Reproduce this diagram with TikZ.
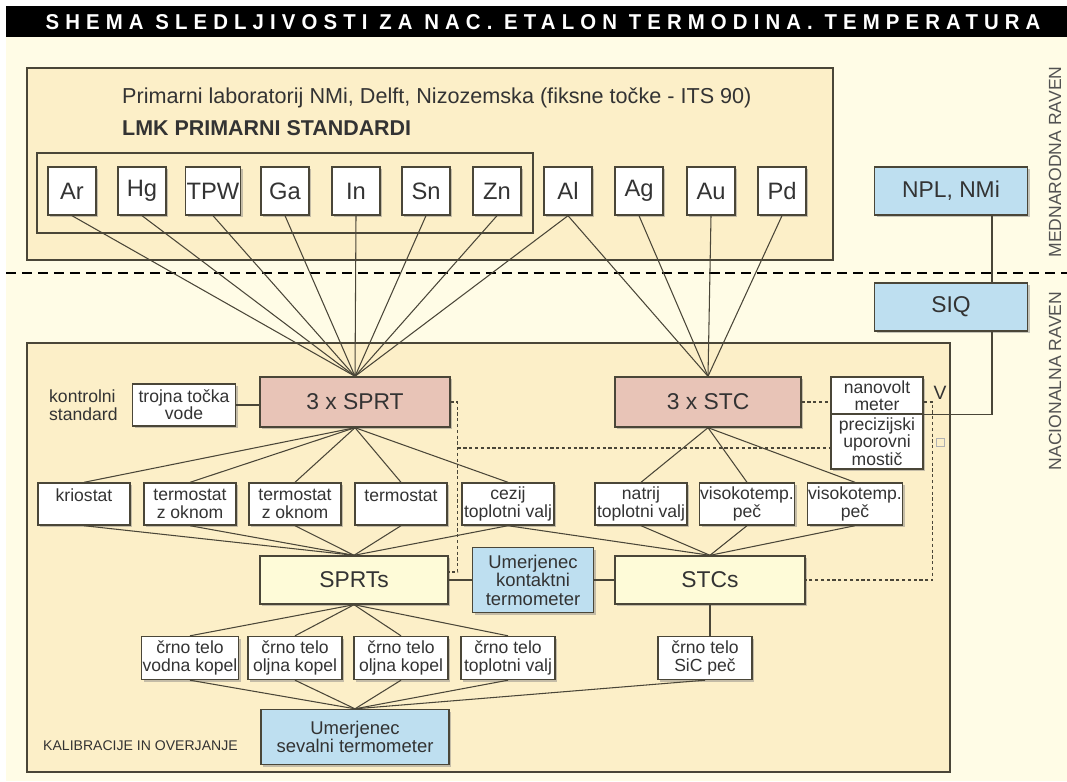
\documentclass[tikz,border=0pt]{standalone}
\usepackage{fontspec}
\setmainfont{Liberation Sans}
\usepackage{graphicx}
\usetikzlibrary{shadows}
\definecolor{pageBg}{HTML}{FFFCE6}
\definecolor{panelBg}{HTML}{FCEFC8}
\definecolor{sprtPink}{HTML}{E8C4B7}
\definecolor{paleBox}{HTML}{FEFBD8}
\definecolor{refBlue}{HTML}{BEDFF0}
\definecolor{nLine}{HTML}{4A4638}
\definecolor{nInk}{HTML}{333333}
\tikzset{
  box/.style={draw=nLine, line width=0.8pt, inner sep=0.5pt, align=center, text=nInk,
    drop shadow={shadow xshift=1.3pt, shadow yshift=-1.3pt, fill=black!50, opacity=0.45}},
  elem/.style={box, fill=white, minimum width=0.96cm, minimum height=0.96cm,
    font=\fontsize{13.5}{15}\selectfont},
  devbox/.style={box, fill=white, minimum width=1.84cm, minimum height=0.84cm,
    font=\fontsize{10}{9.8}\selectfont},
  refbox/.style={box, fill=sprtPink, minimum width=3.76cm, minimum height=1cm,
    font=\fontsize{13}{15}\selectfont},
  setbox/.style={box, fill=paleBox, minimum width=3.76cm, minimum height=0.96cm,
    font=\fontsize{13}{15}\selectfont},
  labbox/.style={box, fill=refBlue, minimum width=3.06cm, minimum height=0.96cm,
    font=\fontsize{13}{15}\selectfont},
  calbox/.style={box, fill=refBlue, font=\fontsize{10.5}{10.5}\selectfont},
  panel/.style={draw=nLine, line width=0.8pt, fill=panelBg},
  link/.style={draw=nLine, line width=0.6pt},
  ctrl/.style={draw=nLine, line width=0.7pt, dash pattern=on 1.8pt off 1.5pt},
  note/.style={text=nInk, align=left, font=\fontsize{10}{10.5}\selectfont},
  level/.style={rotate=90, text=nInk!85, font=\fontsize{10}{12}\selectfont},
}

\begin{document}
\begin{tikzpicture}[x=0.02cm, y=-0.02cm]
  \useasboundingbox (0,0) rectangle (1067,781);
  \fill[white] (0,0) rectangle (1067,781);
  \fill[pageBg] (6,6) rectangle (1067,781);
  \fill[black] (6,6) rectangle (1067,37);
  \node[text=white, font=\bfseries, inner sep=0] (title) at (543,22)
    {\resizebox{19.9cm}{0.30cm}{\addfontfeatures{LetterSpace=30}SHEMA SLEDLJIVOSTI ZA NAC. ETALON TERMODINA. TEMPERATURA}};

  % levels
  \node[level] (intl) at (1055,162) {MEDNARODNA RAVEN};
  \node[level] (natl) at (1055,381) {NACIONALNA RAVEN};
  \coordinate (lvlL) at (6,273);
  \coordinate (lvlR) at (1067,273);

  % international level
  \draw[panel] (27,68) rectangle (833,260);
  \node[note, anchor=west, font=\fontsize{12.3}{14}\selectfont] (lab) at (116,98)
    {Primarni laboratorij NMi, Delft, Nizozemska (fiksne točke - ITS 90)};
  \node[note, anchor=west, font=\fontsize{12.2}{14}\selectfont\bfseries] (lmk) at (116,128)
    {LMK PRIMARNI STANDARDI};
  \draw[nLine, line width=0.8pt] (37,153) rectangle (533,233);
  \foreach \n/\x in {Ar/72,Hg/142,TPW/213,Ga/285,In/356,Sn/426,Zn/497,Al/568,Ag/639,Au/711,Pd/782}
    \node[elem] (el\n) at (\x,191) {\n};
  \node[labbox] (npl) at (951,191) {NPL, NMi};
  \node[labbox] (siq) at (951,307) {SIQ};

  \draw[black, line width=1.7pt, dash pattern=on 5.7pt off 3.4pt] (lvlL) -- (lvlR);

  % national level
  \draw[panel] (27,343) rectangle (950,772);
  \node[note, anchor=west] (kontr) at (43,405) {kontrolni\\standard};
  \node[devbox, minimum width=2.06cm] (troj) at (184,405) {trojna točka\\vode};
  \node[refbox, minimum width=3.8cm] (sprt) at (355,402) {3 x SPRT};
  \node[refbox, minimum width=3.72cm] (stc) at (708,402) {3 x STC};
  \node[devbox, minimum height=0.74cm] (nvm) at (877,395.5) {nanovolt\\meter};
  \node[devbox, minimum height=1.1cm] (most) at (877,441.5) {precizijski\\uporovni\\mostič};
  \node[text=nInk, font=\fontsize{11}{11}\selectfont] (vmark) at (940,393) {V};
  \node[draw=black!30, minimum size=0.16cm, inner sep=0] (bmark) at (940,442) {};

  \foreach \n/\x/\t in {kri/84/{kriostat\\\mbox{}}, tz1/190/{termostat\\z oknom},
      tz2/295/{termostat\\z oknom}, ter/401/{termostat\\\mbox{}}, cez/508/{cezij\\toplotni valj},
      nat/641/{natrij\\toplotni valj}, vt1/747/{visokotemp.\\peč}, vt2/855/{visokotemp.\\peč}}
    \node[devbox] (\n) at (\x,504) {\t};

  \node[setbox] (sprts) at (354,580) {SPRTs};
  \node[setbox, minimum width=3.8cm] (stcs) at (710,580) {STCs};
  \node[calbox, minimum width=2.42cm, minimum height=1.3cm] (kont) at (533,580)
    {Umerjenec\\kontaktni\\termometer};

  \foreach \n/\x/\t in {ct1/190/{črno telo\\vodna kopel}, ct2/295/{črno telo\\oljna kopel},
      ct3/401/{črno telo\\oljna kopel}, ct4/508/{črno telo\\toplotni valj}, sic/705/{črno telo\\SiC peč}}
    \node[devbox, minimum width=1.88cm, minimum height=0.86cm] (\n) at (\x,658) {\t};

  \node[calbox, minimum width=3.76cm, minimum height=1.1cm] (sev) at (355,737)
    {Umerjenec\\sevalni termometer};
  \node[text=nInk, anchor=west, font=\fontsize{8}{8}\selectfont] (kal) at (37,746)
    {KALIBRACIJE IN OVERJANJE};

  % traceability links
  \foreach \n in {Ar,Hg,TPW,Ga,In,Sn,Zn,Al}
    \draw[link] (el\n.south) -- (sprt.north);
  \foreach \n in {Al,Ag,Au,Pd}
    \draw[link] (el\n.south) -- (stc.north);
  \draw[link] ([xshift=0.82cm]npl.south) -- ([xshift=0.82cm]siq.north);
  \draw[link] ([xshift=0.82cm]siq.south) |- (nvm.south east);
  \draw[link] (troj.east) -- (troj.east -| sprt.west);
  \foreach \n in {kri,tz1,tz2,ter,cez} {
    \draw[link] (sprt.south) -- (\n.north);
    \draw[link] (\n.south) -- (sprts.north);
  }
  \foreach \n in {nat,vt1,vt2} {
    \draw[link] (stc.south) -- (\n.north);
    \draw[link] (\n.south) -- (stcs.north);
  }
  \draw[link] (cez.south) -- (stcs.north);
  \draw[link] (sprts.east) -- (kont.west);
  \draw[link] (kont.east) -- (stcs.west);
  \foreach \n in {ct1,ct2,ct3,ct4} {
    \draw[link] (sprts.south) -- (\n.north);
    \draw[link] (\n.south) -- (sev.north);
  }
  \draw[link] (stcs.south) -- (stcs.south |- sic.north);
  \draw[link] (sic.south) -- (sev.north);

  % measuring instruments
  \draw[ctrl] (sprt.east) -- ++(7,0) coordinate (sbus) |- ([yshift=0.16cm]sprts.east);
  \coordinate (bridgeIn) at ([yshift=-0.13cm]most.west);
  \draw[ctrl] (sbus |- bridgeIn) -- (bridgeIn);
  \draw[ctrl] (stc.east) -- (stc.east -| nvm.west);
  \draw[ctrl] (stc.east -| nvm.east) -- ++(9,0) coordinate (tbus) |- (stcs.east);
\end{tikzpicture}
\end{document}
